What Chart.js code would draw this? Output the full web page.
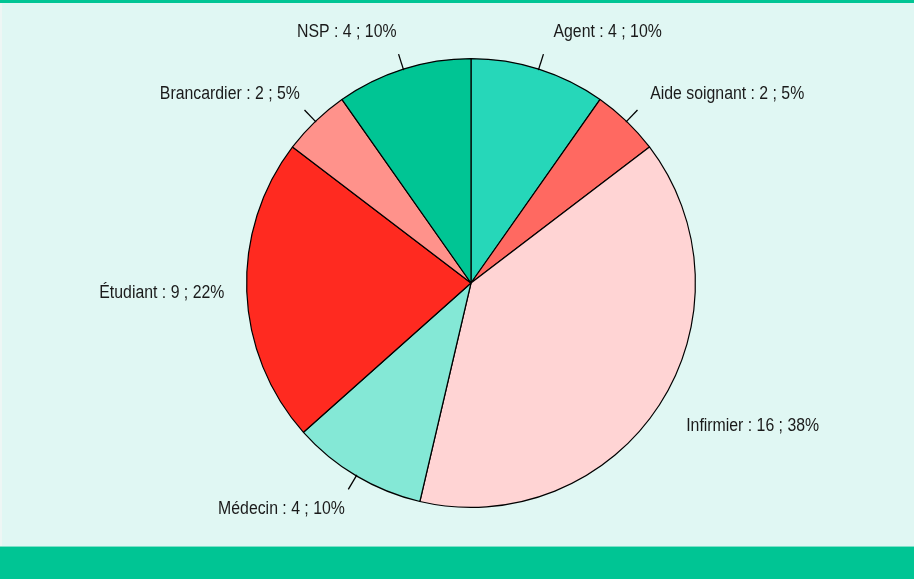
<!DOCTYPE html>
<html>
<head>
<meta charset="utf-8">
<script src="https://cdn.jsdelivr.net/npm/chart.js@4"></script>
<style>
  html, body { margin: 0; padding: 0; }
  #cadre { position: relative; width: 914px; height: 579px; background: #E0F7F3; overflow: hidden; }
  #barre-haut { position: absolute; left: 0; top: 0; width: 914px; height: 3px; background: #00C594; }
  #barre-bas { position: absolute; left: 0; top: 546px; width: 914px; height: 33px; background: #00C594; border-top: 1px solid #7FE0C8; }
  #bord-gauche { position: absolute; left: 0; top: 3px; width: 2px; height: 543px; background: #EEF6F4; }
  canvas { position: absolute; left: 0; top: 0; }
</style>
</head>
<body>
<div id="cadre">
  <div id="barre-haut"></div>
  <div id="bord-gauche"></div>
  <canvas id="graphe" width="914" height="579"></canvas>
  <div id="barre-bas"></div>
</div>
<script>
// ─── données (sens horaire depuis midi) ───
var categories = ['Agent', 'Aide soignant', 'Infirmier', 'Médecin', 'Étudiant', 'Brancardier', 'NSP'];
var effectifs = [4, 2, 16, 4, 9, 2, 4];
var pourcentages = [10, 5, 38, 10, 22, 5, 10];
var couleurs = ['#26D7B9', '#FF6961', '#FFD4D4', '#84E8D6', '#FF2A20', '#FF928B', '#00C594'];

// étiquettes + petits traits de rappel
var etiquettesPlugin = {
  id: 'etiquettes',
  afterDatasetsDraw: function(chart) {
    var ctx = chart.ctx;
    var meta = chart.getDatasetMeta(0);
    var total = effectifs.reduce(function(a, b) { return a + b; }, 0);
    var serre = 0.88; // police "condensée" par compression horizontale
    ctx.save();
    ctx.font = '18px "Liberation Sans", Arial, sans-serif';
    ctx.fillStyle = '#1a1a1a';
    ctx.strokeStyle = '#000';
    ctx.lineWidth = 1.3;
    meta.data.forEach(function(arc, i) {
      var p = arc.getProps(['x', 'y', 'startAngle', 'endAngle', 'outerRadius'], true);
      var a = (p.startAngle + p.endAngle) / 2;
      var r = p.outerRadius;
      var cx = Math.cos(a), cy = Math.sin(a);
      // trait seulement pour les petites parts
      if (effectifs[i] / total < 0.15) {
        ctx.beginPath();
        ctx.moveTo(p.x + cx * r * 0.995, p.y + cy * r * 0.995);
        ctx.lineTo(p.x + cx * r * 1.07, p.y + cy * r * 1.07);
        ctx.stroke();
      }
      var lx = p.x + cx * r * 1.1 + (cx < 0 ? 0 : 8);
      var ly = p.y + cy * r * 1.1 + cy * 16;
      var txt = categories[i] + ' : ' + effectifs[i] + ' ; ' + pourcentages[i] + '%';
      ctx.save();
      ctx.translate(lx, ly);
      ctx.scale(serre, 1);
      ctx.textAlign = cx < 0 ? 'right' : 'left';
      ctx.textBaseline = 'middle';
      ctx.fillText(txt, 0, 0);
      ctx.restore();
    });
    ctx.restore();
  }
};

new Chart(document.getElementById('graphe').getContext('2d'), {
  type: 'pie',
  data: {
    labels: categories,
    datasets: [{ data: effectifs, backgroundColor: couleurs, borderColor: '#000', borderWidth: 1.2 }]
  },
  options: {
    responsive: false,
    animation: false,
    layout: { padding: { top: 58, bottom: 71, left: 100, right: 72 } },
    plugins: { legend: { display: false }, tooltip: { enabled: false } }
  },
  plugins: [etiquettesPlugin]
});
</script>
</body>
</html>
